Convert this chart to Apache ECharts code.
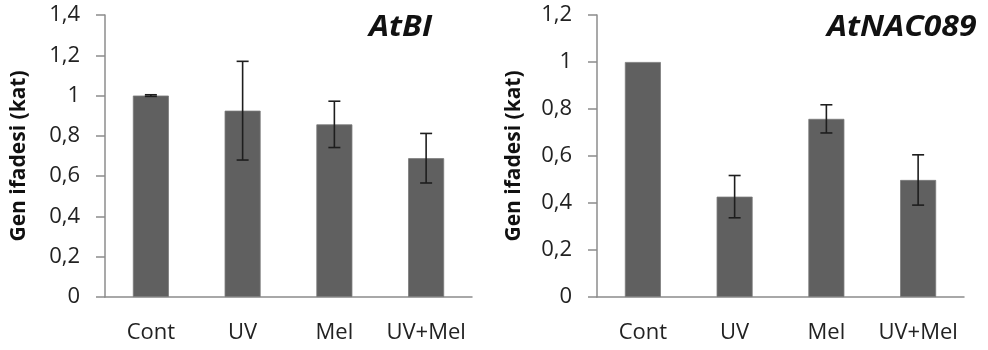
<!DOCTYPE html>
<html>
<head>
<meta charset="utf-8">
<script src="https://cdn.jsdelivr.net/npm/echarts@6/dist/echarts.min.js"></script>
<style>
  html, body { margin: 0; padding: 0; background: #fff; }
  #chart { width: 988px; height: 350px; }
</style>
</head>
<body>
<div id="chart"></div>
<script>
// Relative gene expression (fold change) for two genes under four treatments
const categories = ['Cont', 'UV', 'Mel', 'UV+Mel'];

const atbiTitle = 'AtBI';
const atbiMean = [1.0, 0.925, 0.857, 0.689];
const atbiErr = [0.004, 0.245, 0.115, 0.123];

const nacTitle = 'AtNAC089';
const nacMean = [1.0, 0.427, 0.758, 0.498];
const nacErr = [0, 0.09, 0.06, 0.107];

const yAxisTitle = 'Gen ifadesi (kat)';

const axisGray = '#8c8c8c';
const barGray = '#606060';
const font = 'Open Sans';

function fmt(v) {
  return String(+v.toFixed(1)).replace('.', ',');
}

function errorData(mean, err) {
  return mean.map((m, i) => [i, m - err[i], m + err[i]]);
}

function renderError(params, api) {
  const x = api.value(0);
  const lo = api.coord([x, api.value(1)]);
  const hi = api.coord([x, api.value(2)]);
  const half = 6;
  const style = { stroke: '#1e1e1e', lineWidth: 1.6 };
  return {
    type: 'group',
    children: [
      { type: 'line', shape: { x1: hi[0], y1: hi[1], x2: lo[0], y2: lo[1] }, style },
      { type: 'line', shape: { x1: hi[0] - half, y1: hi[1], x2: hi[0] + half, y2: hi[1] }, style },
      { type: 'line', shape: { x1: lo[0] - half, y1: lo[1], x2: lo[0] + half, y2: lo[1] }, style }
    ]
  };
}

function xAxis(gridIndex) {
  return {
    type: 'category', gridIndex, data: categories,
    axisLine: { lineStyle: { color: axisGray, width: 1.5 } },
    axisTick: { length: 8, lineStyle: { color: axisGray, width: 1.5 } },
    axisLabel: { interval: 0, color: '#222', fontFamily: font, fontSize: 22, margin: 25 }
  };
}

function yAxis(gridIndex, max, nameGap) {
  return {
    type: 'value', gridIndex, min: 0, max, interval: 0.2,
    name: yAxisTitle, nameLocation: 'middle', nameGap,
    nameTextStyle: { color: '#111', fontFamily: font, fontSize: 21, fontWeight: 'bold' },
    axisLine: { show: true, lineStyle: { color: axisGray, width: 1.5 } },
    axisTick: { show: true, length: 9, lineStyle: { color: axisGray, width: 1.5 } },
    splitLine: { show: false },
    axisLabel: { color: '#222', fontFamily: font, fontSize: 22, margin: 25, formatter: fmt }
  };
}

function titleText(text, x) {
  return {
    type: 'text', x, y: 13, scaleX: 1.1, z: 100,
    style: { text, fill: '#111', font: 'italic bold 29px "Open Sans"' }
  };
}

const chart = echarts.init(document.getElementById('chart'), null, { renderer: 'canvas' });
chart.setOption({
  animation: false,
  backgroundColor: '#fff',
  graphic: [titleText(atbiTitle, 369), titleText(nacTitle, 827)],
  grid: [
    { left: 105, top: 15, width: 367, height: 282 },
    { left: 597, top: 15, width: 367, height: 282 }
  ],
  xAxis: [xAxis(0), xAxis(1)],
  yAxis: [yAxis(0, 1.4, 75), yAxis(1, 1.2, 72)],
  series: [
    { type: 'bar', xAxisIndex: 0, yAxisIndex: 0, data: atbiMean, barWidth: 36,
      itemStyle: { color: barGray, borderColor: '#7a7a7a', borderWidth: 0.8 } },
    { type: 'custom', xAxisIndex: 0, yAxisIndex: 0, data: errorData(atbiMean, atbiErr),
      renderItem: renderError, z: 10 },
    { type: 'bar', xAxisIndex: 1, yAxisIndex: 1, data: nacMean, barWidth: 36,
      itemStyle: { color: barGray, borderColor: '#7a7a7a', borderWidth: 0.8 } },
    { type: 'custom', xAxisIndex: 1, yAxisIndex: 1,
      data: errorData(nacMean, nacErr).filter((d, i) => nacErr[i] > 0),
      renderItem: renderError, z: 10 }
  ]
});
</script>
</body>
</html>
